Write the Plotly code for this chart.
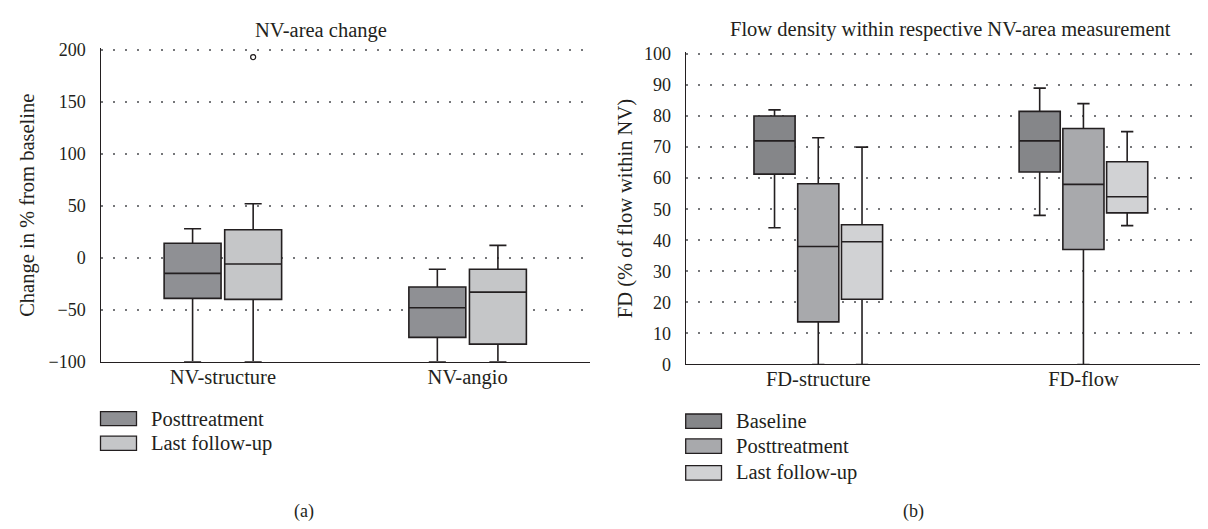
import plotly.graph_objects as go

# ---------------- data ----------------
cats_a = ["NV-structure", "NV-angio"]
series_a = ["Posttreatment", "Last follow-up"]
post_a_low = [-100, -100]
post_a_q1 = [-39, -76.5]
post_a_med = [-15, -48]
post_a_q3 = [14, -28]
post_a_up = [28, -11]
last_a_low = [-100, -100]
last_a_q1 = [-40, -83]
last_a_med = [-6, -33]
last_a_q3 = [27, -11]
last_a_up = [52, 12]
last_a_outliers = [[193], []]
ticks_a = [-100, -50, 0, 50, 100, 150, 200]

cats_b = ["FD-structure", "FD-flow"]
series_b = ["Baseline", "Posttreatment", "Last follow-up"]
base_b_low = [44, 48]
base_b_q1 = [61.3, 62]
base_b_med = [72, 72]
base_b_q3 = [80, 81.5]
base_b_up = [82, 89]
post_b_low = [0, 0]
post_b_q1 = [13.7, 37]
post_b_med = [38, 58]
post_b_q3 = [58.2, 76]
post_b_up = [73, 84]
last_b_low = [0, 44.7]
last_b_q1 = [21, 48.8]
last_b_med = [39.5, 54]
last_b_q3 = [45, 65.3]
last_b_up = [70, 75]
ticks_b = list(range(0, 101, 10))

title_a = "NV-area change"
title_b = "Flow density within respective NV-area measurement"
ytitle_a = "Change in % from baseline"
ytitle_b = "FD (% of flow within NV)"

# ---------------- style ----------------
W, H = 1208, 529
FONT = "Liberation Serif"
INK = "#231f20"
colors_a = ["#8f9094", "#c5c6c8"]
colors_b = ["#858689", "#a8a9ac", "#d1d2d4"]
FS = 20.5      # titles, labels, legend
FT = 18        # tick labels


def fx(x):
    return x / W


def fy(y):
    return 1 - y / H


fig = go.Figure()

box_common = dict(line=dict(color=INK, width=1.6), whiskerwidth=0.3,
                  showlegend=False, hoverinfo="skip")

fig.add_trace(go.Box(name=series_a[0], x=cats_a, q1=post_a_q1, median=post_a_med,
                     q3=post_a_q3, lowerfence=post_a_low, upperfence=post_a_up,
                     fillcolor=colors_a[0], xaxis="x", yaxis="y",
                     alignmentgroup="A", offsetgroup="A0", **box_common))
fig.add_trace(go.Box(name=series_a[1], x=cats_a, q1=last_a_q1, median=last_a_med,
                     q3=last_a_q3, lowerfence=last_a_low, upperfence=last_a_up,
                     y=last_a_outliers, boxpoints="outliers", jitter=0, pointpos=0,
                     marker=dict(symbol="circle-open", size=5, color=INK,
                                 line=dict(width=1.3, color=INK)),
                     fillcolor=colors_a[1], xaxis="x", yaxis="y",
                     alignmentgroup="A", offsetgroup="A1", **box_common))

for k, (name, col, lo, q1, md, q3, up) in enumerate([
    (series_b[0], colors_b[0], base_b_low, base_b_q1, base_b_med, base_b_q3, base_b_up),
    (series_b[1], colors_b[1], post_b_low, post_b_q1, post_b_med, post_b_q3, post_b_up),
    (series_b[2], colors_b[2], last_b_low, last_b_q1, last_b_med, last_b_q3, last_b_up),
]):
    fig.add_trace(go.Box(name=name, x=cats_b, q1=q1, median=md, q3=q3,
                         lowerfence=lo, upperfence=up, fillcolor=col,
                         xaxis="x2", yaxis="y2",
                         alignmentgroup="B", offsetgroup="B%d" % k, **box_common))

grid = dict(showgrid=True, gridcolor="#76777a", gridwidth=2, griddash="2px,10px",
            zeroline=False, showline=True, linecolor=INK, linewidth=1.4,
            ticks="", ticklabelstandoff=10, tickfont=dict(size=FT))
xcommon = dict(type="category", showgrid=False, zeroline=False, showline=True,
               linecolor=INK, linewidth=1.4, ticks="", tickfont=dict(size=FS),
               ticklabelstandoff=-4)

# small headroom above the top tick so its gridline is drawn
ya_top, yb_top = 201.5, 100.5
ya_px_per = (358 - 35) / 300.0
yb_px_per = (360.7 - 39.3) / 100.0

fig.update_layout(
    width=W, height=H,
    margin=dict(l=0, r=0, t=0, b=0),
    paper_bgcolor="white", plot_bgcolor="white",
    font=dict(family=FONT, size=FS, color=INK),
    boxmode="group", boxgap=0.505, boxgroupgap=0.06,
    xaxis=dict(domain=[fx(92.5), fx(582)], anchor="y", categoryarray=cats_a,
               categoryorder="array", **xcommon),
    yaxis=dict(domain=[fy(358), fy(35 - (ya_top - 200) * ya_px_per)], anchor="x",
               range=[-100, ya_top], tickvals=ticks_a, **grid),
    xaxis2=dict(domain=[fx(677.7), fx(1208)], anchor="y2", categoryarray=cats_b,
                categoryorder="array", **xcommon),
    yaxis2=dict(domain=[fy(360.7), fy(39.3 - (yb_top - 100) * yb_px_per)], anchor="x2",
                range=[0, yb_top], tickvals=ticks_b, **grid),
)

ann = []
shapes = []
# titles
ann.append(dict(text=title_a, x=fx(313), y=fy(15), xref="paper", yref="paper",
                showarrow=False, xanchor="center", yanchor="middle", font=dict(size=FS)))
ann.append(dict(text=title_b, x=fx(942), y=fy(14), xref="paper", yref="paper",
                showarrow=False, xanchor="center", yanchor="middle", font=dict(size=FS)))
# axis titles
ann.append(dict(text=ytitle_a, x=fx(20), y=fy(196.5), xref="paper", yref="paper",
                showarrow=False, textangle=-90, xanchor="center", yanchor="middle",
                font=dict(size=FS)))
ann.append(dict(text=ytitle_b, x=fx(617), y=fy(200), xref="paper", yref="paper",
                showarrow=False, textangle=-90, xanchor="center", yanchor="middle",
                font=dict(size=FS)))
# legends
leg_a_y = [416.8, 442.3]
for name, col, yc in zip(series_a, colors_a, leg_a_y):
    shapes.append(dict(type="rect", xref="paper", yref="paper",
                       x0=fx(92.5), x1=fx(128.5), y0=fy(yc - 7.3), y1=fy(yc + 7.3),
                       fillcolor=col, line=dict(color=INK, width=1.3)))
    ann.append(dict(text=name, x=fx(141), y=fy(yc), xref="paper", yref="paper",
                    showarrow=False, xanchor="left", yanchor="middle", font=dict(size=FS)))
leg_b_y = [419.5, 445.3, 473]
for name, col, yc in zip(series_b, colors_b, leg_b_y):
    shapes.append(dict(type="rect", xref="paper", yref="paper",
                       x0=fx(677.7), x1=fx(713.5), y0=fy(yc - 7.5), y1=fy(yc + 7.5),
                       fillcolor=col, line=dict(color=INK, width=1.3)))
    ann.append(dict(text=name, x=fx(726), y=fy(yc), xref="paper", yref="paper",
                    showarrow=False, xanchor="left", yanchor="middle", font=dict(size=FS)))
# panel letters
ann.append(dict(text="(a)", x=fx(296), y=fy(513), xref="paper", yref="paper",
                showarrow=False, xanchor="center", yanchor="middle", font=dict(size=FT)))
ann.append(dict(text="(b)", x=fx(905), y=fy(513), xref="paper", yref="paper",
                showarrow=False, xanchor="center", yanchor="middle", font=dict(size=FT)))

fig.update_layout(annotations=ann, shapes=shapes)
fig.write_html("out.html")
